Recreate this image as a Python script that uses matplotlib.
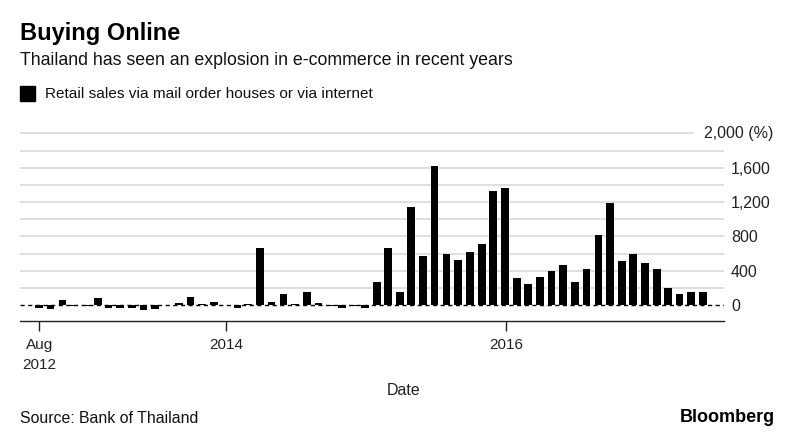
import numpy as np
import pandas as pd
import matplotlib
matplotlib.use("Agg")
import matplotlib.pyplot as plt
import matplotlib.patches as mpatches

# Monthly retail sales via mail order houses or via internet, y/y change (%)
# Aug 2012 .. May 2017, month-end dates
start_month = "2012-08-31"
sales_yoy = [
    -30, -45, 55, -15, -15, 80, -30, -40, -40, -55, -50, -5,
    20, 97, 10, 35, 5, -30, 15, 670, 30, 132, 10, 156,
    25, -10, -40, -10, -40, 272, 668, 156, 1147, 571, 1625, 595,
    521, 622, 707, 1333, 1368, 311, 245, 323, 396, 470, 272, 420,
    820, 1186, 509, 595, 494, 424, 198, 132, 148, 148,
]
y_ticks = [0, 400, 800, 1200, 1600]
y_tick_labels = ["0", "400", "800", "1,200", "1,600"]
grid_levels = [200, 400, 600, 800, 1000, 1200, 1400, 1600, 1800]
x_tick_dates = ["2012-08-31", "2014-01-01", "2016-01-03"]
x_tick_labels = ["Aug\n2012", "2014", "2016"]

FONT = ["Liberation Sans", "DejaVu Sans"]
GRID = "#dcdcdc"

plt.rcParams["font.family"] = FONT

dates = pd.date_range(start_month, periods=len(sales_yoy), freq="ME")

fig = plt.figure(figsize=(8, 4.4), dpi=100)
ax = fig.add_axes([0.025, 0.2705, 0.88, 0.4359])

# grid first, bars on top
for lvl in grid_levels:
    ax.axhline(lvl, color=GRID, linewidth=1.3, zorder=0)
ax.axhline(2000, xmax=0.956, color=GRID, linewidth=1.3, zorder=0)

ax.bar(dates, sales_yoy, width=20, color="black", zorder=2)
ax.axhline(0, color="black", linestyle=(0, (3, 2.5)), linewidth=1.0, zorder=3)

ax.set_xlim(pd.Timestamp("2012-07-12"), pd.Timestamp("2017-07-25"))
ax.set_ylim(-187, 2050)

for side in ["top", "left", "right"]:
    ax.spines[side].set_visible(False)
ax.spines["bottom"].set_color("#222222")
ax.spines["bottom"].set_linewidth(1.0)

ax.set_xticks([pd.Timestamp(d) for d in x_tick_dates])
ax.set_xticklabels(x_tick_labels, fontsize=11, linespacing=1.6, color="#222222")
ax.tick_params(axis="x", direction="out", length=7, width=1, color="#222222", pad=5)

ax.yaxis.tick_right()
ax.set_yticks(y_ticks)
ax.set_yticklabels(y_tick_labels, fontsize=11.5, color="#222222")
for lbl in ax.get_yticklabels():
    lbl.set_horizontalalignment("left")
ax.tick_params(axis="y", length=0, pad=5)
ax.text(1.07, 2000, "2,000 (%)", transform=ax.get_yaxis_transform(),
        ha="right", va="center", fontsize=11.5, color="#222222")

# axis title sits at the figure centre, not the axes centre
ax.set_xlabel("Date", fontsize=11.5, color="#222222")
ax.xaxis.set_label_coords((404 - 20) / 704, (321 - 390) / 190.8, transform=ax.transAxes)
ax.xaxis.label.set_va("center")

# header
fig.text(20 / 800, 1 - 22 / 440, "Buying Online", fontsize=17, fontweight="bold",
         va="top", ha="left")
fig.text(20 / 800, 1 - 52 / 440, "Thailand has seen an explosion in e-commerce in recent years",
         fontsize=12.8, va="top", ha="left", color="#111111")
fig.patches.append(mpatches.Rectangle((20 / 800, 1 - 101 / 440), 15 / 800, 15 / 440,
                                      transform=fig.transFigure, color="black"))
fig.text(45 / 800, 1 - 94 / 440, "Retail sales via mail order houses or via internet",
         fontsize=11.1, va="center", ha="left", color="#111111")

# footer
fig.text(20 / 800, 1 - 418 / 440, "Source: Bank of Thailand",
         fontsize=11.4, va="center", ha="left", color="#111111")
fig.text(775 / 800, 1 - 417 / 440, "Bloomberg", fontsize=13,
         fontweight="bold", va="center", ha="right")

fig.savefig("out.png", dpi=100)
plt.close(fig)
